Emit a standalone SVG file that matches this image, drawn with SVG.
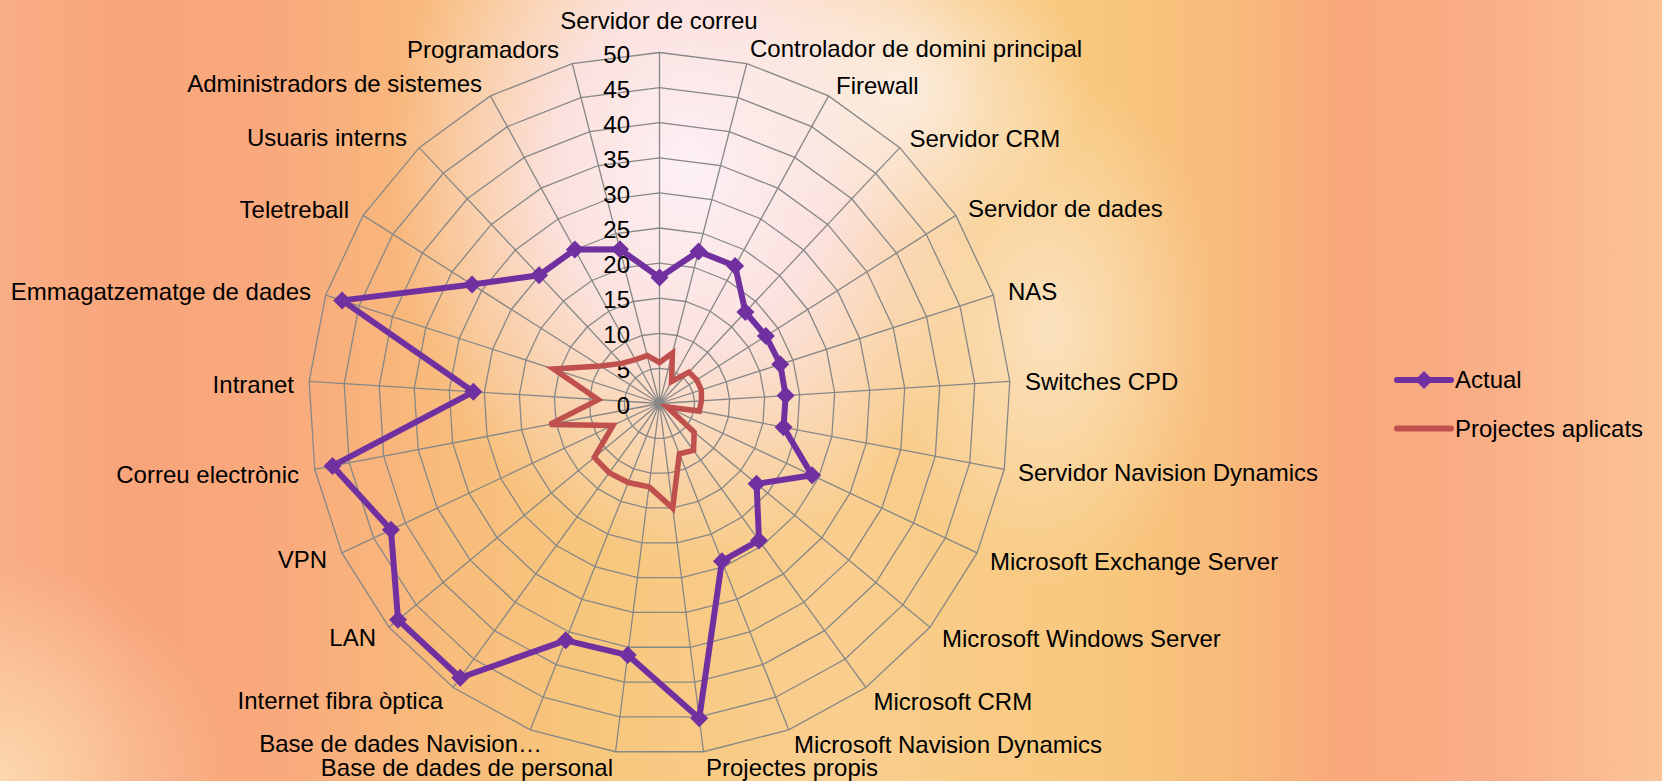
<svg xmlns="http://www.w3.org/2000/svg" xmlns:xlink="http://www.w3.org/1999/xlink" width="1662" height="781" viewBox="0 0 1662 781">
  <defs>
    <style>
      .lbl { font-family: "Liberation Sans", Arial, sans-serif; font-size: 24px; fill: #000; }
      .end { text-anchor: end; }
      .mid { text-anchor: middle; }
      .grid { fill: none; stroke: #878787; }
      .actual { fill: none; stroke: #7030A0; stroke-width: 6; stroke-linejoin: round; }
      .proj { fill: none; stroke: #C0504D; stroke-width: 5.5; stroke-linejoin: miter; }
    </style>
    <linearGradient id="bgH" x1="0" y1="0" x2="1" y2="0">
      <stop offset="0" stop-color="#F9AE85"/>
      <stop offset="0.08" stop-color="#F8A47B"/>
      <stop offset="0.17" stop-color="#F9AA7D"/>
      <stop offset="0.27" stop-color="#F8BC7B"/>
      <stop offset="0.36" stop-color="#F7C77D"/>
      <stop offset="0.5" stop-color="#F9CE8F"/>
      <stop offset="0.66" stop-color="#F8C87D"/>
      <stop offset="0.74" stop-color="#F8BB7B"/>
      <stop offset="0.81" stop-color="#F9A87C"/>
      <stop offset="0.9" stop-color="#FAAF87"/>
      <stop offset="1" stop-color="#FBC396"/>
    </linearGradient>
    <radialGradient id="glow">
      <stop offset="0" stop-color="#FDF1F6" stop-opacity="1"/>
      <stop offset="0.45" stop-color="#FCE6EE" stop-opacity="0.85"/>
      <stop offset="1" stop-color="#FCE6EE" stop-opacity="0"/>
    </radialGradient>
    <radialGradient id="cream">
      <stop offset="0" stop-color="#FCF0E4" stop-opacity="0.9"/>
      <stop offset="1" stop-color="#FCF0E4" stop-opacity="0"/>
    </radialGradient>
    <radialGradient id="corner">
      <stop offset="0" stop-color="#FDDDB2" stop-opacity="0.9"/>
      <stop offset="1" stop-color="#FDDDB2" stop-opacity="0"/>
    </radialGradient>
    <!-- unit 25-gon, radius 100 -->
    <polygon id="ring" points="0,-100 24.869,-96.858 48.175,-87.631 68.455,-72.897 84.433,-53.583 95.106,-30.902 99.803,-6.279 98.229,18.738 90.483,42.578 77.051,63.742 58.779,80.902 36.812,92.978 12.533,99.211 -12.533,99.211 -36.812,92.978 -58.779,80.902 -77.051,63.742 -90.483,42.578 -98.229,18.738 -99.803,-6.279 -95.106,-30.902 -84.433,-53.583 -68.455,-72.897 -48.175,-87.631 -24.869,-96.858"/>
    <path id="diamond" d="M0,-9 L9,0 L0,9 L-9,0 Z" fill="#7030A0"/>
    <marker id="dm" markerUnits="userSpaceOnUse" markerWidth="20" markerHeight="20" refX="10" refY="10" viewBox="0 0 20 20" overflow="visible">
      <path d="M10,1 L19,10 L10,19 L1,10 Z" fill="#7030A0"/>
    </marker>
  </defs>

  <!-- background -->
  <g id="background">
    <rect width="1662" height="781" fill="url(#bgH)"/>
    <ellipse cx="0" cy="781" rx="230" ry="220" fill="url(#corner)"/>
    <ellipse cx="1050" cy="330" rx="170" ry="260" fill="url(#cream)" opacity="0.7"/>
    <ellipse cx="690" cy="170" rx="300" ry="390" fill="url(#glow)"/>
    <ellipse cx="900" cy="90" rx="190" ry="150" fill="url(#cream)"/>
  </g>

  <!-- radar grid: rings every 5 units and 25 spokes -->
  <g id="grid" class="grid" transform="translate(659.5 403.5)">
    <use xlink:href="#ring" transform="scale(0.351)" stroke-width="3.704"/>
    <use xlink:href="#ring" transform="scale(0.702)" stroke-width="1.852"/>
    <use xlink:href="#ring" transform="scale(1.053)" stroke-width="1.235"/>
    <use xlink:href="#ring" transform="scale(1.404)" stroke-width="0.926"/>
    <use xlink:href="#ring" transform="scale(1.755)" stroke-width="0.741"/>
    <use xlink:href="#ring" transform="scale(2.106)" stroke-width="0.617"/>
    <use xlink:href="#ring" transform="scale(2.457)" stroke-width="0.529"/>
    <use xlink:href="#ring" transform="scale(2.808)" stroke-width="0.463"/>
    <use xlink:href="#ring" transform="scale(3.159)" stroke-width="0.412"/>
    <use xlink:href="#ring" transform="scale(3.51)" stroke-width="0.370"/>
    <path stroke-width="1.3" d="M0,0L0,-351 M0,0L87.29,-339.97 M0,0L169.09,-307.58 M0,0L240.28,-255.87 M0,0L296.36,-188.08 M0,0L333.82,-108.47 M0,0L350.31,-22.04 M0,0L344.78,65.77 M0,0L317.60,149.45 M0,0L270.45,223.73 M0,0L206.31,283.97 M0,0L129.21,326.35 M0,0L43.99,348.23 M0,0L-43.99,348.23 M0,0L-129.21,326.35 M0,0L-206.31,283.97 M0,0L-270.45,223.73 M0,0L-317.60,149.45 M0,0L-344.78,65.77 M0,0L-350.31,-22.04 M0,0L-333.82,-108.47 M0,0L-296.36,-188.08 M0,0L-240.28,-255.87 M0,0L-169.09,-307.58 M0,0L-87.29,-339.97"/>
  </g>

  <!-- value scale -->
  <g id="scale" class="lbl end">
    <text x="630" y="413.5">0</text>
    <text x="630" y="378.4">5</text>
    <text x="630" y="343.3">10</text>
    <text x="630" y="308.2">15</text>
    <text x="630" y="273.1">20</text>
    <text x="630" y="238">25</text>
    <text x="630" y="202.9">30</text>
    <text x="630" y="167.8">35</text>
    <text x="630" y="132.7">40</text>
    <text x="630" y="97.6">45</text>
    <text x="630" y="62.5">50</text>
  </g>

  <!-- category labels -->
  <g id="categories" class="lbl">
    <text x="659" y="29" class="mid">Servidor de correu</text>
    <text x="750" y="57">Controlador de domini principal</text>
    <text x="836" y="93.5">Firewall</text>
    <text x="909.5" y="147">Servidor CRM</text>
    <text x="968" y="217">Servidor de dades</text>
    <text x="1008" y="300">NAS</text>
    <text x="1025" y="390">Switches CPD</text>
    <text x="1018" y="481">Servidor Navision Dynamics</text>
    <text x="990" y="570">Microsoft Exchange Server</text>
    <text x="942" y="647">Microsoft Windows Server</text>
    <text x="873.5" y="710">Microsoft CRM</text>
    <text x="794" y="753">Microsoft Navision Dynamics</text>
    <text x="706" y="776">Projectes propis</text>
    <text x="613" y="776" class="end">Base de dades de personal</text>
    <text x="542" y="752" class="end">Base de dades Navision…</text>
    <text x="443" y="708.5" class="end">Internet fibra òptica</text>
    <text x="376" y="645.5" class="end">LAN</text>
    <text x="327" y="568" class="end">VPN</text>
    <text x="299" y="483" class="end">Correu electrònic</text>
    <text x="294" y="393" class="end">Intranet</text>
    <text x="311" y="300" class="end">Emmagatzematge de dades</text>
    <text x="349" y="218" class="end">Teletreball</text>
    <text x="407" y="146" class="end">Usuaris interns</text>
    <text x="482" y="92" class="end">Administradors de sistemes</text>
    <text x="559" y="58" class="end">Programadors</text>
  </g>

  <!-- data series -->
  <g id="series" transform="translate(659.5 403.5)">
    <polygon id="series-projectes" class="proj" points="0,-41 12.93,-50.37 12.04,-21.91 29.44,-31.35 37.15,-23.58 41.85,-13.60 41.92,-2.64 39.78,7.59 7.69,3.62 34.67,28.68 34.09,46.92 19.88,50.21 13.22,104.67 -10.53,83.34 -31.29,79.03 -50.31,69.25 -65.19,53.93 -46.51,21.88 -109.62,20.91 -61.18,-3.85 -105.95,-34.42 -59.10,-37.51 -37.65,-40.09 -24.09,-43.82 -12.31,-47.95"/>
    <polygon id="series-actual" class="actual" marker-start="url(#dm)" marker-mid="url(#dm)" points="0,-126 39.04,-152.07 75.63,-137.58 85.91,-91.49 106.39,-67.51 120.78,-39.25 126.15,-7.94 124.06,23.67 152.55,71.79 97.08,80.31 99.51,136.97 62.43,157.69 39.75,314.70 -31.78,251.60 -93.76,236.81 -199.26,274.26 -261.43,216.28 -268.55,126.37 -327.00,62.38 -186.13,-11.71 -317.37,-103.12 -187.44,-118.95 -120.41,-128.23 -84.64,-153.97 -39.59,-154.20"/>
  </g>

  <!-- legend -->
  <g id="legend">
    <line x1="1397" y1="380" x2="1451" y2="380" stroke="#7030A0" stroke-width="6" stroke-linecap="round"/>
    <use xlink:href="#diamond" x="1424" y="380"/>
    <text class="lbl" x="1455" y="388">Actual</text>
    <line x1="1397" y1="428.5" x2="1451" y2="428.5" stroke="#C0504D" stroke-width="6" stroke-linecap="round"/>
    <text class="lbl" x="1455" y="437">Projectes aplicats</text>
  </g>
</svg>
